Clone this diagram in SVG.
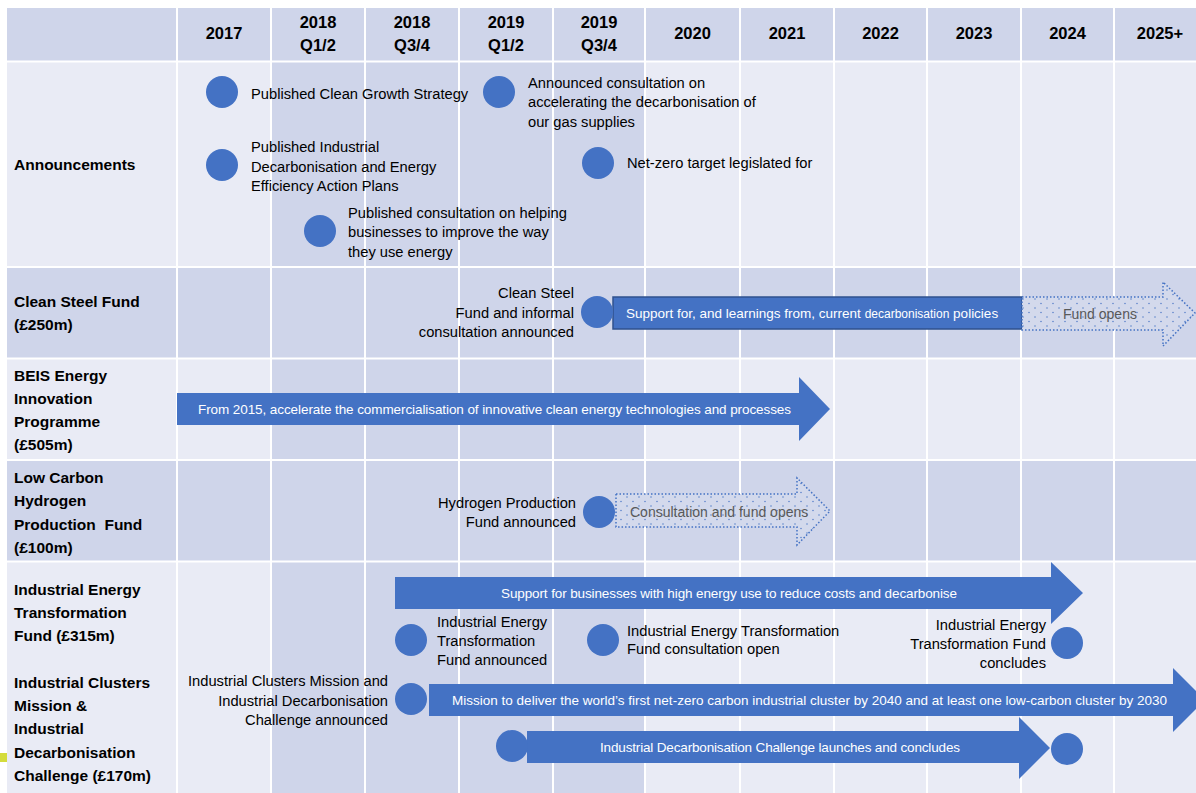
<svg xmlns="http://www.w3.org/2000/svg" width="1196" height="793" viewBox="0 0 1196 793">
<defs>
<style>
.t{font-family:"Liberation Sans",Arial,sans-serif;font-size:14.7px;fill:#000}
.h{font-family:"Liberation Sans",Arial,sans-serif;font-size:16.5px;font-weight:bold;fill:#000;text-anchor:middle}
.r{font-family:"Liberation Sans",Arial,sans-serif;font-size:15.5px;font-weight:bold;fill:#000}
.w{font-family:"Liberation Sans",Arial,sans-serif;font-size:13.5px;fill:#fff}
.g{font-family:"Liberation Sans",Arial,sans-serif;font-size:14px;fill:#595959}
.e{text-anchor:end}
.dot{fill:#4472C4}
.bar{fill:#4472C4}
.dash{fill:url(#dots);stroke:#4472C4;stroke-width:1.5;stroke-dasharray:1.5 2}
.gl{stroke:#fff;stroke-width:2}
</style>
<pattern id="dots" width="12" height="9" patternUnits="userSpaceOnUse">
<rect width="12" height="9" fill="#D3D9EC"/>
<circle cx="3" cy="2" r="0.7" fill="#4472C4"/>
<circle cx="9" cy="6.5" r="0.7" fill="#4472C4"/>
</pattern>
</defs>
<rect width="1196" height="793" fill="#fff"/>
<g id="grid">
<rect x="7" y="8" width="1189" height="785" fill="#E9EBF5"/>
<rect x="271" y="61" width="374" height="732" fill="#CFD5EA"/>
<rect x="7" y="8" width="1189" height="54" fill="#CFD5EA"/>
<rect x="7" y="267" width="1189" height="92" fill="#CFD5EA"/>
<rect x="7" y="460" width="1189" height="102" fill="#CFD5EA"/>
<g class="gl">
<line x1="177" y1="8" x2="177" y2="793"/>
<line x1="271" y1="8" x2="271" y2="793"/>
<line x1="365" y1="8" x2="365" y2="793"/>
<line x1="459" y1="8" x2="459" y2="793"/>
<line x1="553" y1="8" x2="553" y2="793"/>
<line x1="645" y1="8" x2="645" y2="793"/>
<line x1="740" y1="8" x2="740" y2="793"/>
<line x1="834" y1="8" x2="834" y2="793"/>
<line x1="927" y1="8" x2="927" y2="793"/>
<line x1="1021" y1="8" x2="1021" y2="793"/>
<line x1="1114" y1="8" x2="1114" y2="793"/>
<line x1="7" y1="61.5" x2="1196" y2="61.5"/>
<line x1="7" y1="267" x2="1196" y2="267"/>
<line x1="7" y1="358.5" x2="1196" y2="358.5"/>
<line x1="7" y1="460" x2="1196" y2="460"/>
<line x1="7" y1="561.5" x2="1196" y2="561.5"/>
</g>
<rect x="0" y="753" width="7" height="9" fill="#D4DC3C"/>
</g>
<g id="header">
<text class="h" x="224" y="39">2017</text>
<text class="h" x="318" y="28">2018</text><text class="h" x="318" y="51">Q1/2</text>
<text class="h" x="412" y="28">2018</text><text class="h" x="412" y="51">Q3/4</text>
<text class="h" x="506" y="28">2019</text><text class="h" x="506" y="51">Q1/2</text>
<text class="h" x="599" y="28">2019</text><text class="h" x="599" y="51">Q3/4</text>
<text class="h" x="692.5" y="39">2020</text>
<text class="h" x="787" y="39">2021</text>
<text class="h" x="880.5" y="39">2022</text>
<text class="h" x="974" y="39">2023</text>
<text class="h" x="1067.5" y="39">2024</text>
<text class="h" x="1160" y="39">2025+</text>
</g>
<g id="row-labels">
<text class="r" x="14" y="170">Announcements</text>
<text class="r" x="14" y="306.5">Clean Steel Fund</text>
<text class="r" x="14" y="330">(£250m)</text>
<text class="r" x="14" y="381">BEIS Energy</text>
<text class="r" x="14" y="404">Innovation</text>
<text class="r" x="14" y="427">Programme</text>
<text class="r" x="14" y="450">(£505m)</text>
<text class="r" x="14" y="483">Low Carbon</text>
<text class="r" x="14" y="506">Hydrogen</text>
<text class="r" x="14" y="530">Production&#160; Fund</text>
<text class="r" x="14" y="553">(£100m)</text>
<text class="r" x="14" y="595">Industrial Energy</text>
<text class="r" x="14" y="618">Transformation</text>
<text class="r" x="14" y="641">Fund (£315m)</text>
<text class="r" x="14" y="688">Industrial Clusters</text>
<text class="r" x="14" y="711">Mission &amp;</text>
<text class="r" x="14" y="734">Industrial</text>
<text class="r" x="14" y="758">Decarbonisation</text>
<text class="r" x="14" y="781">Challenge (£170m)</text>
</g>
<g id="connectors">
<polygon class="bar" points="177,393 799,393 799,377 830,409 799,441 799,425 177,425"/>
<rect x="613" y="297" width="409" height="32" fill="#4472C4" stroke="#2F528F" stroke-width="1.5"/>
<polygon class="dash" points="1022,297 1163,297 1163,282 1195,313 1163,346 1163,330 1022,330"/>
<polygon class="dash" points="616,494 797,494 797,478 830,511 797,545 797,527 616,527"/>
<polygon class="bar" points="395,577 1051,577 1051,562 1083,593 1051,624 1051,609 395,609"/>
<polygon class="bar" points="429,684 1173,684 1173,668 1205,700 1173,732 1173,716 429,716"/>
<polygon class="bar" points="527,731 1019,731 1019,717 1050,748 1019,779 1019,763 527,763"/>
<text class="w" x="198" y="414" textLength="593">From 2015, accelerate the commercialisation of innovative clean energy technologies and processes</text>
<text class="w" x="626" y="318">Support for, and learnings from, current <tspan font-size="12">decarbonisation</tspan> policies</text>
<text class="g" x="1063" y="319">Fund opens</text>
<text class="g" x="630" y="517" font-size="13.4">Consultation and fund opens</text>
<text class="w" x="501" y="598" textLength="456">Support for businesses with high energy use to reduce costs and decarbonise</text>
<text class="w" x="452" y="705" textLength="715">Mission to deliver the world’s first net-zero carbon industrial cluster by 2040 and at least one low-carbon cluster by 2030</text>
<text class="w" x="600" y="752" textLength="360">Industrial Decarbonisation Challenge launches and concludes</text>
</g>
<g id="n-clean-growth"><circle class="dot" cx="222" cy="92" r="16"/><text class="t" x="251" y="99">Published Clean Growth Strategy</text></g>
<g id="n-gas-consultation"><circle class="dot" cx="499" cy="92" r="16"/><text class="t" x="528" y="88">Announced consultation on</text><text class="t" x="528" y="107">accelerating the decarbonisation of</text><text class="t" x="528" y="127">our gas supplies</text></g>
<g id="n-action-plans"><circle class="dot" cx="222" cy="165" r="16"/><text class="t" x="251" y="152">Published Industrial</text><text class="t" x="251" y="172">Decarbonisation and Energy</text><text class="t" x="251" y="191">Efficiency Action Plans</text></g>
<g id="n-net-zero"><circle class="dot" cx="598" cy="163" r="16"/><text class="t" x="627" y="168">Net-zero target legislated for</text></g>
<g id="n-energy-consultation"><circle class="dot" cx="320" cy="231" r="16"/><text class="t" x="348" y="218">Published consultation on helping</text><text class="t" x="348" y="237">businesses to improve the way</text><text class="t" x="348" y="257">they use energy</text></g>
<g id="n-clean-steel"><circle class="dot" cx="597" cy="312" r="16"/><text class="t e" x="574" y="298">Clean Steel</text><text class="t e" x="574" y="318">Fund and informal</text><text class="t e" x="574" y="337">consultation announced</text></g>
<g id="n-hydrogen"><circle class="dot" cx="599" cy="512" r="16"/><text class="t e" x="576" y="508">Hydrogen Production</text><text class="t e" x="576" y="527">Fund announced</text></g>
<g id="n-ietf-announced"><circle class="dot" cx="411" cy="640" r="16"/><text class="t" x="437" y="627">Industrial Energy</text><text class="t" x="437" y="646">Transformation</text><text class="t" x="437" y="665">Fund announced</text></g>
<g id="n-ietf-consultation"><circle class="dot" cx="603" cy="640" r="16"/><text class="t" x="627" y="636">Industrial Energy Transformation</text><text class="t" x="627" y="654">Fund consultation open</text></g>
<g id="n-ietf-concludes"><circle class="dot" cx="1067" cy="643" r="16"/><text class="t e" x="1046" y="630">Industrial Energy</text><text class="t e" x="1046" y="649">Transformation Fund</text><text class="t e" x="1046" y="668">concludes</text></g>
<g id="n-clusters-announced"><circle class="dot" cx="411" cy="699" r="16"/><text class="t e" x="388" y="686">Industrial Clusters Mission and</text><text class="t e" x="388" y="706">Industrial Decarbonisation</text><text class="t e" x="388" y="725">Challenge announced</text></g>
<g id="n-idc-launch"><circle class="dot" cx="512" cy="746" r="16"/></g>
<g id="n-idc-end"><circle class="dot" cx="1067" cy="749" r="16"/></g>
</svg>
